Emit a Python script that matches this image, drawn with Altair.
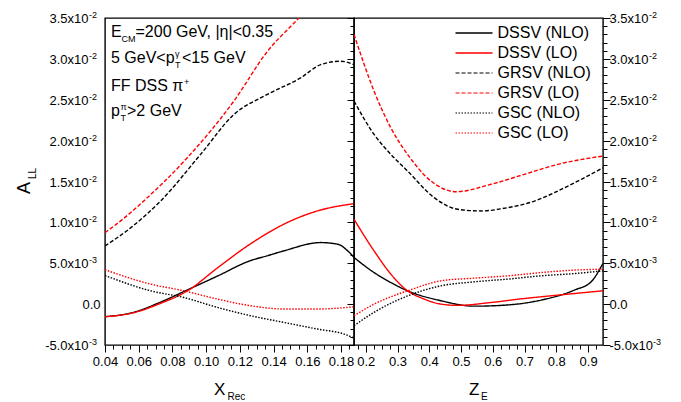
import altair as alt
import pandas as pd

FONT = "Liberation Sans"
W1, W2, H = 249, 249, 327

SERIES = ["DSSV (NLO)", "DSSV (LO)", "GRSV (NLO)", "GRSV (LO)", "GSC (NLO)", "GSC (LO)"]
COLORS = ["#000000", "#ff0000", "#000000", "#ff0000", "#000000", "#ff0000"]
DASHES = [[1, 0], [1, 0], [4, 2], [4, 2], [1.5, 1.5], [1.5, 1.5]]
WIDTHS = [1.4, 1.4, 1.1, 1.1, 1.2, 1.2]

# ---------- left panel: A_LL vs X_Rec ----------
L_DSSV_NLO_X = [0.040, 0.057, 0.073, 0.089, 0.107, 0.126, 0.136, 0.146, 0.168, 0.178, 0.184, 0.1877]
L_DSSV_NLO_Y = [-0.00154, -0.00100, 0.00025, 0.00175, 0.00346, 0.00530, 0.00590, 0.00651, 0.00753, 0.00733, 0.00651, 0.00570]
L_DSSV_LO_X = [0.040, 0.057, 0.073, 0.089, 0.107, 0.126, 0.146, 0.166, 0.1877]
L_DSSV_LO_Y = [-0.00154, -0.00105, 0.00010, 0.00163, 0.00448, 0.00733, 0.00977, 0.01140, 0.01229]
L_GRSV_NLO_X = [0.040, 0.055, 0.073, 0.0967, 0.1165, 0.1363, 0.156, 0.168, 0.1798, 0.1877]
L_GRSV_NLO_Y = [0.00712, 0.00930, 0.01262, 0.01832, 0.02320, 0.02565, 0.02767, 0.02930, 0.02971, 0.02930]
L_GRSV_LO_X = [0.040, 0.050, 0.063, 0.0888, 0.1163, 0.1363, 0.155, 0.170, 0.1877]
L_GRSV_LO_Y = [0.00875, 0.01030, 0.01262, 0.01790, 0.02480, 0.03090, 0.03500, 0.03830, 0.04180]
L_GSC_NLO_X = [0.040, 0.067, 0.0868, 0.1066, 0.1264, 0.1462, 0.166, 0.1818, 0.1877]
L_GSC_NLO_Y = [0.00350, 0.00163, 0.00081, -0.00040, -0.00142, -0.00224, -0.00305, -0.00366, -0.00415]
L_GSC_LO_X = [0.040, 0.067, 0.0868, 0.1066, 0.1264, 0.1462, 0.166, 0.1877]
L_GSC_LO_Y = [0.00420, 0.00245, 0.00163, 0.00062, -0.00020, -0.00060, -0.00060, -0.00032]

# ---------- right panel: A_LL vs Z_E ----------
R_DSSV_NLO_X = [0.163, 0.2262, 0.279, 0.3316, 0.437, 0.542, 0.647, 0.752, 0.857, 0.910, 0.947]
R_DSSV_NLO_Y = [0.00570, 0.00386, 0.00264, 0.00163, 0.00041, -0.00025, -0.00010, 0.00049, 0.00172, 0.00275, 0.00500]
R_DSSV_LO_X = [0.163, 0.2262, 0.279, 0.3316, 0.384, 0.437, 0.4895, 0.5946, 0.700, 0.805, 0.947]
R_DSSV_LO_Y = [0.01038, 0.00651, 0.00367, 0.00163, 0.00062, 0.00000, -0.00015, 0.00020, 0.00069, 0.00110, 0.00163]
R_GRSV_NLO_X = [0.163, 0.2262, 0.279, 0.3316, 0.4156, 0.4895, 0.563, 0.647, 0.731, 0.805, 0.879, 0.947]
R_GRSV_NLO_Y = [0.02483, 0.02076, 0.01832, 0.01628, 0.01302, 0.01160, 0.01140, 0.01180, 0.01260, 0.01384, 0.01527, 0.01668]
R_GRSV_LO_X = [0.163, 0.2262, 0.2789, 0.3316, 0.4052, 0.484, 0.5946, 0.6998, 0.805, 0.9104, 0.947]
R_GRSV_LO_Y = [0.03300, 0.02605, 0.02157, 0.01832, 0.01506, 0.01375, 0.01466, 0.01588, 0.01710, 0.01790, 0.01811]
R_GSC_NLO_X = [0.163, 0.2262, 0.3316, 0.437, 0.542, 0.647, 0.752, 0.857, 0.947]
R_GSC_NLO_Y = [-0.00264, -0.00100, 0.00100, 0.00224, 0.00273, 0.00306, 0.00346, 0.00374, 0.00407]
R_GSC_LO_X = [0.163, 0.2262, 0.3316, 0.437, 0.542, 0.647, 0.752, 0.857, 0.947]
R_GSC_LO_Y = [-0.00142, 0.00000, 0.00163, 0.00285, 0.00318, 0.00346, 0.00386, 0.00416, 0.00428]

# ---------- axis ticks / labels ----------
Y_DOMAIN = [-0.005, 0.035]
X1_DOMAIN = [0.04, 0.1877]
X2_DOMAIN = [0.163, 0.947]
Y_TICKS = [round(-0.005 + 0.001 * i, 3) for i in range(41)]
X1_TICKS = [round(0.04 + 0.005 * i, 3) for i in range(30)]
X2_TICKS = [round(0.175 + 0.025 * i, 3) for i in range(31)]
Y_LABEL_VALUES = [-0.005, 0.005, 0.010, 0.015, 0.020, 0.025, 0.030, 0.035]
Y_LABEL_MAIN = ["-5.0x10", "5.0x10", "1.0x10", "1.5x10", "2.0x10", "2.5x10", "3.0x10", "3.5x10"]
Y_LABEL_SUP = ["-3", "-3", "-2", "-2", "-2", "-2", "-2", "-2"]


def long_table(pairs):
    rows = []
    for name, (xs, ys) in zip(SERIES, pairs):
        for xv, yv in zip(xs, ys):
            rows.append({"x": xv, "y": yv, "s": name})
    return pd.DataFrame(rows)


left_df = long_table([(L_DSSV_NLO_X, L_DSSV_NLO_Y), (L_DSSV_LO_X, L_DSSV_LO_Y),
                      (L_GRSV_NLO_X, L_GRSV_NLO_Y), (L_GRSV_LO_X, L_GRSV_LO_Y),
                      (L_GSC_NLO_X, L_GSC_NLO_Y), (L_GSC_LO_X, L_GSC_LO_Y)])
right_df = long_table([(R_DSSV_NLO_X, R_DSSV_NLO_Y), (R_DSSV_LO_X, R_DSSV_LO_Y),
                       (R_GRSV_NLO_X, R_GRSV_NLO_Y), (R_GRSV_LO_X, R_GRSV_LO_Y),
                       (R_GSC_NLO_X, R_GSC_NLO_Y), (R_GSC_LO_X, R_GSC_LO_Y)])

yscale = alt.Scale(domain=Y_DOMAIN, nice=False, zero=False)


def tick_size(step):
    return {"condition": {"test": f"abs(datum.value/{step} - round(datum.value/{step})) < 0.001",
                          "value": 7}, "value": 4}


def y_axis(orient):
    return alt.Axis(orient=orient, values=Y_TICKS, labels=False, title=None, grid=False,
                    domain=False, ticks=True, tickColor="black", tickWidth=1,
                    tickSize=tick_size(0.005))


def x_axis(values, step, fmt):
    return alt.Axis(orient="bottom", values=values, title=None, grid=False, domain=False,
                    tickColor="black", tickWidth=1, tickSize=tick_size(step),
                    labelExpr=f"abs(datum.value/{step} - round(datum.value/{step})) < 0.001 ? format(datum.value, '{fmt}') : ''",
                    labelFont=FONT, labelFontSize=13, labelColor="black", labelFlush=False,
                    labelPadding=3, labelOverlap=False)


def lines(df, xdom, xaxis, yaxis):
    return alt.Chart(df).mark_line(clip=True, interpolate="monotone").encode(
        x=alt.X("x:Q", scale=alt.Scale(domain=xdom, nice=False, zero=False), axis=xaxis),
        y=alt.Y("y:Q", scale=yscale, axis=yaxis),
        color=alt.Color("s:N", scale=alt.Scale(domain=SERIES, range=COLORS), legend=None),
        strokeDash=alt.StrokeDash("s:N", scale=alt.Scale(domain=SERIES, range=DASHES), legend=None),
        strokeWidth=alt.StrokeWidth("s:N", scale=alt.Scale(domain=SERIES, range=WIDTHS), legend=None),
    )


ONE = pd.DataFrame({"k": [0]})


def txt(s, x, y, size, align="left", baseline="alphabetic", angle=0):
    mk = dict(text=s, font=FONT, fontSize=size, align=align, baseline=baseline, color="black")
    if angle:
        mk["angle"] = angle
    return alt.Chart(ONE).mark_text(**mk).encode(x=alt.value(x), y=alt.value(y))


ylab_df = pd.DataFrame({"v": Y_LABEL_VALUES, "main": Y_LABEL_MAIN, "sup": Y_LABEL_SUP})
zero_df = pd.DataFrame({"v": [0.0], "main": ["0.0"]})


def ylabels(side_x, left_side, yaxis=None):
    base = alt.Chart(ylab_df)
    layers = []
    if left_side:
        layers.append(base.mark_text(font=FONT, fontSize=13, align="right", baseline="middle", dy=1,
                                     color="black").encode(
            x=alt.value(side_x - 12), y=alt.Y("v:Q", scale=yscale, axis=yaxis), text="main:N"))
        layers.append(base.mark_text(font=FONT, fontSize=9, align="left", baseline="alphabetic", dy=0,
                                     color="black").encode(
            x=alt.value(side_x - 11.5), y=alt.Y("v:Q", scale=yscale, axis=None), text="sup:N"))
        layers.append(alt.Chart(zero_df).mark_text(font=FONT, fontSize=13, align="right", baseline="middle",
                                                   dy=1, color="black").encode(
            x=alt.value(side_x), y=alt.Y("v:Q", scale=yscale, axis=None), text="main:N"))
    else:
        layers.append(base.mark_text(font=FONT, fontSize=13, align="left", baseline="middle", dy=1,
                                     color="black").encode(
            x=alt.value(side_x), y=alt.Y("v:Q", scale=yscale, axis=yaxis), text="main:N"))
        layers.append(base.transform_filter("datum.v > 0").mark_text(
            font=FONT, fontSize=9, align="left", baseline="alphabetic", color="black").encode(
            x=alt.value(side_x + 39.5), y=alt.Y("v:Q", scale=yscale, axis=None), text="sup:N"))
        layers.append(base.transform_filter("datum.v < 0").mark_text(
            font=FONT, fontSize=9, align="left", baseline="alphabetic", color="black").encode(
            x=alt.value(side_x + 43.5), y=alt.Y("v:Q", scale=yscale, axis=None), text="sup:N"))
        layers.append(alt.Chart(zero_df).mark_text(font=FONT, fontSize=13, align="left", baseline="middle",
                                                   dy=1, color="black").encode(
            x=alt.value(side_x), y=alt.Y("v:Q", scale=yscale, axis=None), text="main:N"))
    return layers


spacer = alt.Chart(ONE).mark_rect(opacity=0).encode(
    x=alt.value(-104), x2=alt.value(-104), y=alt.value(-17), y2=alt.value(H))

# annotations (left panel)
ann = [
    txt("E", 6, 19, 16), txt("CM", 16.5, 24, 9), txt("=200 GeV, |η|<0.35", 30.5, 19, 16),
    txt("5 GeV<p", 6, 45, 16), txt("γ", 70, 39, 9), txt("T", 70, 50, 9), txt("<15 GeV", 77, 45, 16),
    txt("FF DSS π", 6, 73, 16), txt("+", 79, 66.5, 9),
    txt("p", 6, 98, 16), txt("π", 15.5, 91.5, 9), txt("T", 15.5, 103, 9), txt(">2 GeV", 22, 98, 16),
    txt("A", -75, 176, 18, angle=270), txt("LL", -69, 161, 10, angle=270),
    txt("X", 109, 377, 17), txt("Rec", 122.5, 382, 10),
]

left = alt.layer(
    spacer,
    lines(left_df, X1_DOMAIN, x_axis(X1_TICKS, 0.02, ".2f"), y_axis("left")),
    *ylabels(-4.5, True),
    *ann,
).properties(width=W1, height=H)

# legend (right panel)
leg = []
for i, name in enumerate(SERIES):
    yy = 15 + 20 * i
    leg.append(alt.Chart(ONE).mark_rule(color=COLORS[i], strokeDash=DASHES[i], strokeWidth=WIDTHS[i]).encode(
        x=alt.value(101.5), x2=alt.value(138.5), y=alt.value(yy)))
    leg.append(txt(name, 143.5, yy, 16, baseline="middle"))

right_axis_layer = ylabels(W2 + 6.5, False, yaxis=y_axis("right"))

right = alt.layer(
    lines(right_df, X2_DOMAIN, x_axis(X2_TICKS, 0.1, ".1f"), y_axis("left")),
    *right_axis_layer,
    *leg,
    txt("Z", 115, 377, 17), txt("E", 127, 382, 10),
).properties(width=W2, height=H).resolve_axis(y="independent")

chart = alt.hconcat(left, right, spacing=0, bounds="flush").properties(
    padding=0
).configure_view(stroke="black", strokeWidth=1.4).configure_axis(grid=False)

chart.save("out.html", embed_options={"renderer": "svg", "actions": False})
